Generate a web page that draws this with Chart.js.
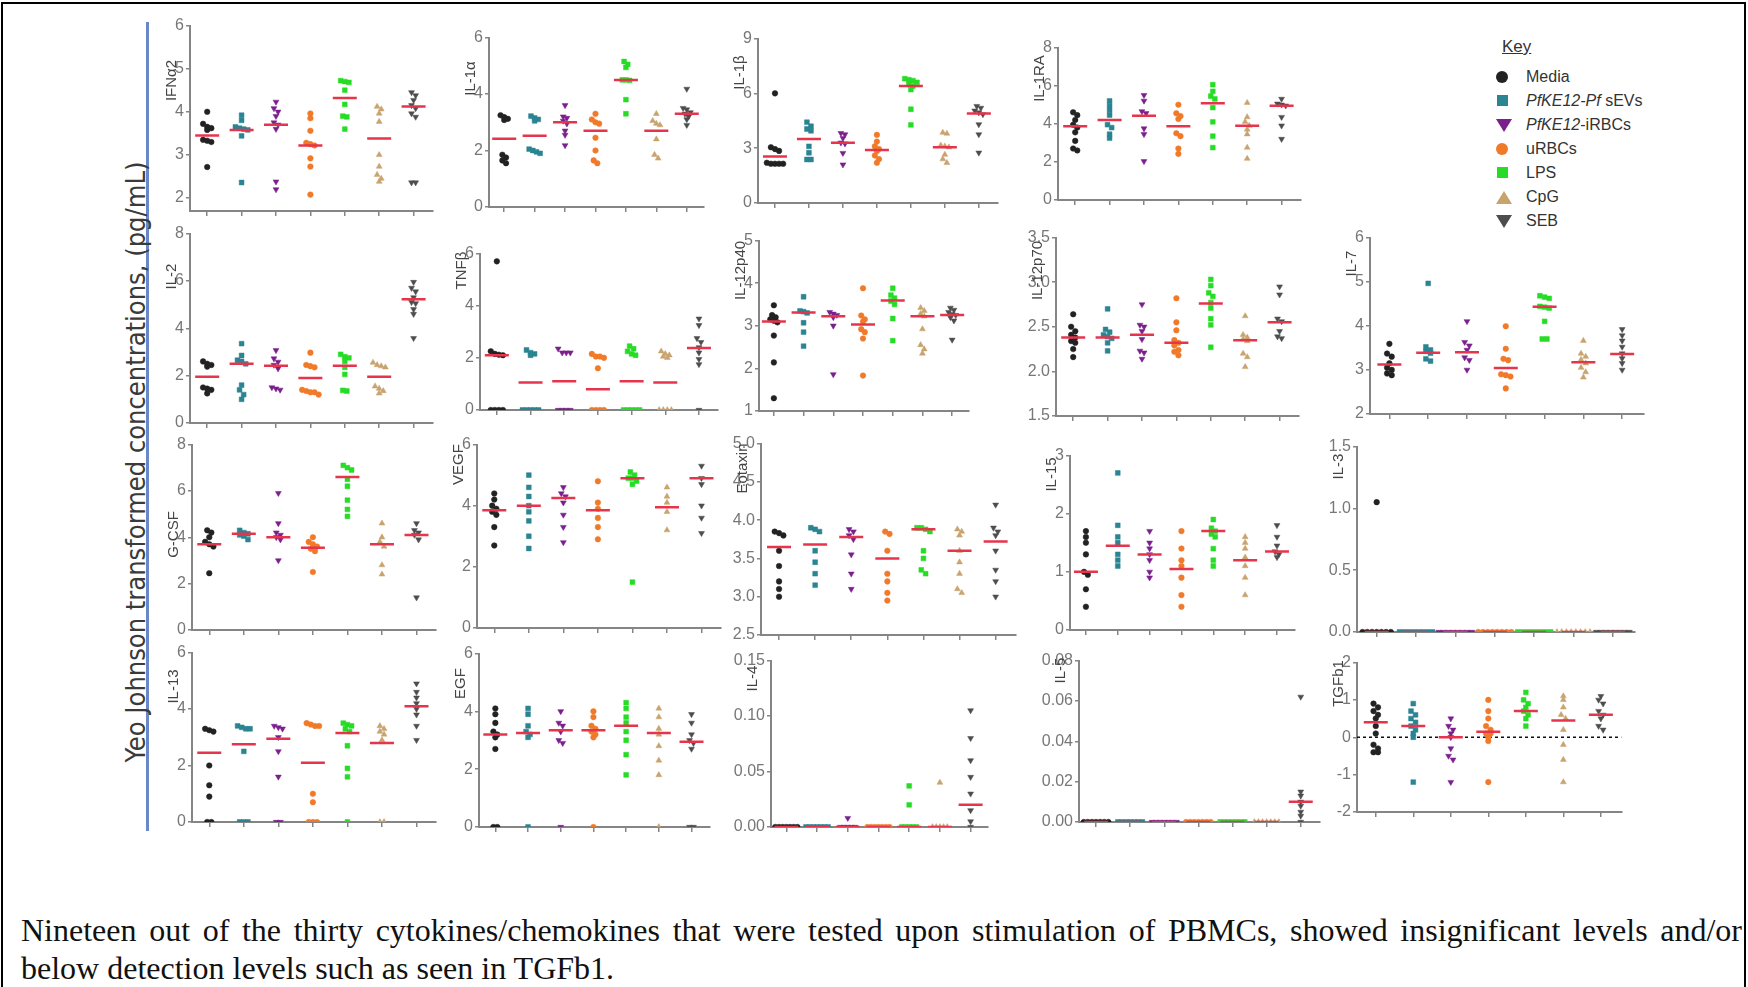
<!DOCTYPE html>
<html>
<head>
<meta charset="utf-8">
<script src="https://cdn.jsdelivr.net/npm/chart.js@4.4.1/dist/chart.umd.min.js"></script>
<style>
  body { margin: 0; width: 1748px; height: 987px; overflow: hidden; position: relative; background: #fff; font-family: Arial, "Liberation Sans", sans-serif; }
  #frame { position: absolute; left: 1px; top: 2px; width: 1745px; height: 1000px; border: 2px solid #000; box-sizing: border-box; }
  #blueLine { position: absolute; left: 146px; top: 22px; width: 3px; height: 809px; background: #6a87c8; }
  #yLabel { position: absolute; left: 135px; top: 462px; transform: translate(-50%, -50%) rotate(-90deg); white-space: nowrap;
    font-family: "Liberation Sans Narrow", "DejaVu Sans Condensed", "Liberation Sans", sans-serif; font-size: 27px; color: #3a3a3a; }
  .panel { position: absolute; }
  #key { position: absolute; left: 1494px; top: 37px; color: #333; font-size: 16px; }
  #key .head { text-decoration: underline; font-size: 17px; margin-left: 8px; margin-bottom: 8px; }
  #key .row { position: relative; height: 24px; line-height: 24px; padding-left: 32px; }
  #key .mk { position: absolute; left: 2px; top: 6px; }
  .caption { position: absolute; left: 21px; width: 1721px; font-family: "Liberation Serif", "Times New Roman", serif; font-size: 32px; line-height: 38px; color: #111; }
  #cap1 { top: 911px; text-align: justify; text-align-last: justify; }
  #cap2 { top: 949px; }
</style>
</head>
<body>
<div id="frame"></div>
<div id="blueLine"></div>
<div id="yLabel">Yeo Johnson transformed concentrations, (pg/mL)</div>
<div id="key"></div>
<div id="cap1" class="caption">Nineteen out of the thirty cytokines/chemokines that were tested upon stimulation of PBMCs, showed insignificant levels and/or</div>
<div id="cap2" class="caption">below detection levels such as seen in TGFb1.</div>
<script>
// treatment groups, in plotting order
const groups = ["Media", "PfKE12-Pf sEVs", "PfKE12-iRBCs", "uRBCs", "LPS", "CpG", "SEB"];
const groupLabels = ["Media", "<i>PfKE12-Pf</i> sEVs", "<i>PfKE12</i>-iRBCs", "uRBCs", "LPS", "CpG", "SEB"];

// values per group (Media, sEVs, iRBCs, uRBCs, LPS, CpG, SEB) and the red bar of each group
const ifna2 = [[4.0, 3.72, 3.65, 3.62, 3.58, 3.35, 3.33, 3.3, 2.72], [3.92, 3.8, 3.65, 3.62, 3.6, 3.58, 3.44, 2.36], [4.23, 4.08, 4.0, 3.9, 3.75, 3.7, 3.6, 2.38, 2.2], [3.96, 3.85, 3.56, 3.28, 3.25, 3.22, 2.92, 2.73, 2.08], [4.72, 4.7, 4.68, 4.5, 4.17, 3.9, 3.88, 3.6], [4.12, 4.06, 3.96, 3.77, 3.0, 2.73, 2.54, 2.45, 2.38], [4.45, 4.38, 4.27, 4.15, 4.08, 3.96, 3.88, 2.36, 2.36]];
const ifna2Mid = [3.45, 3.58, 3.7, 3.22, 4.32, 3.38, 4.12];
const il1a = [[3.25, 3.18, 3.12, 3.08, 1.85, 1.75, 1.65, 1.55], [3.22, 3.15, 3.1, 3.05, 2.05, 2.0, 1.95, 1.9], [3.6, 3.2, 3.15, 3.05, 2.95, 2.7, 2.55, 2.18], [3.3, 3.1, 3.0, 2.95, 2.45, 2.0, 1.65, 1.55], [5.15, 5.05, 4.94, 4.5, 4.5, 4.48, 3.8, 3.3], [3.3, 3.05, 2.95, 2.9, 2.4, 1.85, 1.72], [4.18, 3.5, 3.45, 3.35, 3.3, 3.2, 3.1, 2.9]];
const il1aMid = [2.42, 2.52, 3.0, 2.7, 4.5, 2.7, 3.3];
const il1b = [[6.0, 3.05, 2.95, 2.85, 2.2, 2.15, 2.15, 2.15, 2.15], [4.42, 4.2, 4.05, 3.95, 3.1, 2.75, 2.38, 2.38], [3.82, 3.75, 3.55, 3.3, 3.25, 2.73, 2.1], [3.73, 3.36, 3.1, 2.95, 2.85, 2.6, 2.4, 2.2], [6.8, 6.75, 6.7, 6.6, 6.5, 6.4, 6.2, 5.13, 4.27], [3.85, 3.8, 3.15, 3.1, 3.05, 2.65, 2.4, 2.2], [5.3, 5.2, 5.05, 4.95, 4.85, 4.3, 3.75, 2.75]];
const il1bMid = [2.55, 3.5, 3.3, 2.9, 6.4, 3.05, 4.9];
const il1ra = [[4.6, 4.45, 4.2, 3.95, 3.8, 3.55, 3.1, 2.7, 2.6], [5.2, 4.95, 4.7, 4.45, 3.95, 3.8, 3.45, 3.25], [5.5, 5.2, 4.65, 4.55, 3.75, 3.45, 2.03], [5.0, 4.55, 4.4, 4.25, 3.5, 3.35, 2.7, 2.42], [6.05, 5.7, 5.45, 5.3, 4.85, 4.1, 3.35, 2.75], [5.1, 4.35, 4.1, 3.9, 3.7, 3.45, 2.75, 2.17], [5.3, 5.05, 5.0, 4.95, 4.35, 3.9, 3.2]];
const il1raMid = [3.87, 4.2, 4.42, 3.87, 5.07, 3.9, 4.95];
const il2 = [[2.6, 2.5, 2.45, 2.38, 1.5, 1.45, 1.4, 1.25], [3.35, 2.85, 2.65, 2.6, 2.5, 1.6, 1.4, 1.2, 1.0], [3.07, 2.72, 2.58, 2.45, 2.3, 1.5, 1.4, 1.45], [2.97, 2.45, 2.4, 2.35, 1.4, 1.3, 1.2, 1.3, 1.35], [2.9, 2.8, 2.75, 2.6, 2.35, 2.05, 1.38, 1.35], [2.55, 2.45, 2.4, 2.35, 1.55, 1.45, 1.35, 1.25], [5.95, 5.7, 5.55, 5.3, 5.1, 5.05, 4.8, 4.6, 3.58]];
const il2Mid = [1.95, 2.5, 2.42, 1.9, 2.42, 1.95, 5.22];
const tnfb = [[5.7, 2.25, 2.15, 2.12, 2.1, 0, 0, 0, 0], [2.3, 2.2, 2.15, 2.1, 0, 0, 0, 0, 0], [2.35, 2.2, 2.2, 2.2, 0, 0, 0, 0], [2.15, 2.05, 2.0, 2.05, 1.6, 0, 0, 0, 0], [2.45, 2.35, 2.25, 2.15, 2.1, 0, 0, 0, 0, 0], [2.25, 2.15, 2.1, 2.05, 2.0, 0, 0, 0, 0], [3.5, 3.25, 2.75, 2.6, 2.4, 2.2, 1.95, 1.75, 0]];
const tnfbMid = [2.1, 1.05, 1.1, 0.8, 1.1, 1.05, 2.38];
const il12p40 = [[3.48, 3.25, 3.2, 3.15, 3.12, 3.08, 2.77, 2.14, 1.3], [3.68, 3.35, 3.33, 3.3, 3.07, 2.85, 2.52], [3.32, 3.28, 3.25, 3.2, 3.0, 1.86], [3.88, 3.24, 3.15, 3.1, 2.92, 2.85, 2.7, 1.83], [3.88, 3.72, 3.65, 3.58, 3.5, 3.17, 2.65], [3.42, 3.35, 3.28, 3.22, 2.92, 2.55, 2.45, 2.35], [3.42, 3.37, 3.32, 3.27, 3.25, 3.2, 3.12, 2.67]];
const il12p40Mid = [3.1, 3.31, 3.22, 3.03, 3.59, 3.22, 3.25];
const il12p70 = [[2.64, 2.5, 2.45, 2.41, 2.38, 2.34, 2.32, 2.25, 2.16], [2.7, 2.47, 2.44, 2.41, 2.39, 2.37, 2.32, 2.23], [2.75, 2.52, 2.5, 2.45, 2.36, 2.23, 2.21, 2.14], [2.82, 2.55, 2.46, 2.35, 2.32, 2.29, 2.24, 2.22, 2.18], [3.03, 2.96, 2.88, 2.84, 2.77, 2.71, 2.59, 2.52, 2.27], [2.62, 2.41, 2.38, 2.36, 2.34, 2.2, 2.16, 2.05], [2.95, 2.86, 2.59, 2.56, 2.45, 2.39, 2.37]];
const il12p70Mid = [2.38, 2.38, 2.41, 2.32, 2.76, 2.35, 2.55];
const il7 = [[3.59, 3.37, 3.3, 3.15, 3.05, 3.0, 2.92, 2.88], [4.96, 3.52, 3.45, 3.42, 3.38, 3.25, 3.2], [4.1, 3.63, 3.55, 3.45, 3.28, 3.22, 3.0], [3.99, 3.48, 3.25, 3.22, 2.9, 2.88, 2.85, 2.58], [4.68, 4.65, 4.62, 4.44, 4.42, 4.4, 4.1, 3.7, 3.7], [3.66, 3.37, 3.3, 3.23, 3.15, 3.05, 2.95, 2.83], [3.92, 3.78, 3.66, 3.52, 3.37, 3.26, 3.15, 3.0]];
const il7Mid = [3.12, 3.39, 3.4, 3.04, 4.43, 3.17, 3.36];
const gcsf = [[4.3, 4.2, 4.0, 3.8, 3.7, 3.6, 2.45], [4.3, 4.2, 4.15, 4.1, 4.05, 3.9], [5.9, 4.6, 4.2, 4.1, 4.0, 3.9, 3.0], [4.0, 3.8, 3.7, 3.6, 3.5, 3.4, 2.5], [7.1, 7.0, 6.9, 6.5, 6.2, 5.6, 5.2, 4.9], [4.6, 4.0, 3.8, 3.6, 2.8, 2.4], [4.6, 4.3, 4.2, 4.1, 3.9, 1.4]];
const gcsfMid = [3.7, 4.15, 4.0, 3.55, 6.6, 3.7, 4.1];
const vegf = [[4.4, 4.2, 4.0, 3.9, 3.8, 3.7, 3.3, 2.7], [5.0, 4.6, 4.3, 4.0, 3.8, 3.5, 3.0, 2.6], [4.6, 4.4, 4.3, 4.1, 3.7, 3.3, 2.8], [4.8, 4.1, 3.9, 3.6, 3.3, 2.9], [5.1, 5.0, 4.9, 4.9, 4.8, 4.7, 1.5], [4.6, 4.3, 4.1, 3.8, 3.2], [5.3, 4.9, 4.7, 4.0, 3.6, 3.1]];
const vegfMid = [3.85, 4.0, 4.25, 3.85, 4.9, 3.95, 4.9];
const eotaxin = [[3.85, 3.83, 3.8, 3.6, 3.4, 3.2, 3.1, 3.0], [3.9, 3.88, 3.85, 3.6, 3.45, 3.3, 3.15], [3.88, 3.85, 3.8, 3.75, 3.55, 3.3, 3.1], [3.85, 3.82, 3.6, 3.3, 3.2, 3.05, 2.95], [3.9, 3.9, 3.88, 3.85, 3.6, 3.5, 3.35, 3.3], [3.88, 3.85, 3.8, 3.6, 3.45, 3.3, 3.1, 3.05], [4.2, 3.9, 3.85, 3.8, 3.6, 3.35, 3.2, 3.0]];
const eotaxinMid = [3.65, 3.68, 3.78, 3.5, 3.88, 3.6, 3.72];
const il15 = [[1.7, 1.6, 1.5, 1.3, 1.0, 0.95, 0.7, 0.4], [2.7, 1.8, 1.6, 1.5, 1.3, 1.2, 1.1], [1.7, 1.5, 1.4, 1.3, 1.2, 1.0, 0.9], [1.7, 1.4, 1.2, 1.1, 0.9, 0.6, 0.4], [1.9, 1.75, 1.7, 1.65, 1.6, 1.4, 1.2, 1.1], [1.6, 1.5, 1.4, 1.25, 1.1, 0.9, 0.6], [1.8, 1.6, 1.45, 1.35, 1.3, 1.25]];
const il15Mid = [1.0, 1.45, 1.3, 1.05, 1.7, 1.2, 1.35];
const il3 = [[1.05, 0, 0, 0, 0, 0, 0, 0], [0, 0, 0, 0, 0, 0, 0, 0], [0, 0, 0, 0, 0, 0, 0, 0], [0, 0, 0, 0, 0, 0, 0, 0], [0, 0, 0, 0, 0, 0, 0, 0], [0, 0, 0, 0, 0, 0, 0, 0], [0, 0, 0, 0, 0, 0, 0, 0]];
const il3Mid = [0, 0, 0, 0, 0, 0, 0];
const il13 = [[3.3, 3.25, 3.2, 2.0, 1.3, 0.9, 0, 0], [3.4, 3.35, 3.3, 3.3, 2.5, 0, 0, 0], [3.4, 3.35, 3.3, 3.0, 2.5, 1.6, 0, 0], [3.5, 3.45, 3.4, 3.4, 1.0, 0.7, 0, 0, 0], [3.5, 3.45, 3.4, 3.3, 3.2, 2.7, 1.9, 1.6, 0], [3.4, 3.3, 3.2, 3.1, 2.9, 0, 0], [4.9, 4.6, 4.4, 4.2, 4.0, 3.8, 3.4, 2.9]];
const il13Mid = [2.45, 2.75, 2.95, 2.1, 3.15, 2.8, 4.1];
const egf = [[4.1, 3.9, 3.6, 3.3, 3.2, 3.1, 2.7, 0, 0], [4.1, 3.9, 3.5, 3.3, 3.2, 3.1, 0], [4.0, 3.6, 3.5, 3.3, 3.0, 2.9, 0], [4.0, 3.8, 3.5, 3.4, 3.3, 3.2, 3.1, 0], [4.3, 4.1, 3.8, 3.6, 3.3, 3.0, 2.5, 1.8], [4.1, 3.8, 3.4, 3.2, 2.8, 2.3, 1.8, 0], [3.9, 3.6, 3.2, 3.0, 2.9, 2.7, 0, 0]];
const egfMid = [3.2, 3.25, 3.35, 3.35, 3.5, 3.25, 2.95];
const il4 = [[0, 0, 0, 0, 0, 0, 0], [0, 0, 0, 0, 0, 0, 0], [0.008, 0, 0, 0, 0, 0], [0, 0, 0, 0, 0, 0, 0], [0.037, 0.02, 0, 0, 0, 0, 0], [0.04, 0, 0, 0, 0, 0], [0.105, 0.08, 0.06, 0.045, 0.03, 0.015, 0.005, 0]];
const il4Mid = [0, 0, 0, 0, 0, 0, 0.02];
const il5 = [[0, 0, 0, 0, 0, 0, 0], [0, 0, 0, 0, 0, 0, 0], [0, 0, 0, 0, 0, 0, 0], [0, 0, 0, 0, 0, 0, 0], [0, 0, 0, 0, 0, 0, 0], [0, 0, 0, 0, 0, 0, 0], [0.062, 0.015, 0.013, 0.01, 0.008, 0.005, 0.003, 0]];
const il5Mid = [0, 0, 0, 0, 0, 0, 0.01];
const tgfb1 = [[0.9, 0.8, 0.7, 0.6, 0.5, 0.3, 0.1, -0.2, -0.3, -0.4, -0.4], [0.9, 0.7, 0.6, 0.5, 0.4, 0.3, 0.2, 0.1, 0, -1.2], [0.5, 0.3, 0.2, 0.1, 0, -0.3, -0.5, -0.6, -1.2], [1.0, 0.7, 0.5, 0.3, 0.2, 0.1, 0.1, 0, -0.1, -1.2], [1.2, 1.0, 0.9, 0.8, 0.7, 0.6, 0.5, 0.3], [1.1, 1.0, 0.8, 0.6, 0.5, 0.2, -0.2, -0.6, -1.2], [1.1, 1.0, 0.9, 0.7, 0.6, 0.5, 0.3, 0.2]];
const tgfb1Mid = [0.4, 0.3, 0.0, 0.15, 0.7, 0.45, 0.6];

// look
const groupColors = ["#222222", "#2a8492", "#7a1f8c", "#f07a2a", "#26dc26", "#c9a36e", "#4d4d4d"];
const groupShapes = ["circle", "rect", "triangle", "circle", "rect", "triangle", "triangle"];
const groupTurn = [0, 0, 180, 0, 0, 0, 180];
const midColor = "#e5344c";
const axisColor = "#858585";

// where each panel sits: axis left/right x, axis top/bottom y, value range
const panels = [
  { title: "IFNα2", values: ifna2, mids: ifna2Mid, ax: 190, ar: 437, yt: 25, yb: 211, min: 1.7, max: 6, step: 1, dec: 0, tOff: 55 },
  { title: "IL-1α", values: il1a, mids: il1aMid, ax: 489, ar: 708, yt: 37, yb: 207, min: 0, max: 6, step: 2, dec: 0, tOff: 41 },
  { title: "IL-1β", values: il1b, mids: il1bMid, ax: 758, ar: 1002, yt: 38, yb: 203, min: 0, max: 9, step: 3, dec: 0, tOff: 34 },
  { title: "IL-1RA", values: il1ra, mids: il1raMid, ax: 1058, ar: 1305, yt: 47, yb: 200, min: 0, max: 8, step: 2, dec: 0, tOff: 31 },
  { title: "IL-2", values: il2, mids: il2Mid, ax: 190, ar: 437, yt: 233, yb: 423, min: 0, max: 8, step: 2, dec: 0, tOff: 43 },
  { title: "TNFβ", values: tnfb, mids: tnfbMid, ax: 480, ar: 722, yt: 253, yb: 410, min: 0, max: 6, step: 2, dec: 0, tOff: 17 },
  { title: "IL-12p40", values: il12p40, mids: il12p40Mid, ax: 759, ar: 973, yt: 240, yb: 411, min: 1, max: 5, step: 1, dec: 0, tOff: 30 },
  { title: "IL-12p70", values: il12p70, mids: il12p70Mid, ax: 1056, ar: 1303, yt: 237, yb: 416, min: 1.5, max: 3.5, step: 0.5, dec: 1, tOff: 33 },
  { title: "IL-7", values: il7, mids: il7Mid, ax: 1370, ar: 1648, yt: 237, yb: 414, min: 2, max: 6, step: 1, dec: 0, tOff: 26 },
  { title: "G-CSF", values: gcsf, mids: gcsfMid, ax: 192, ar: 440, yt: 444, yb: 630, min: 0, max: 8, step: 2, dec: 0, tOff: 90 },
  { title: "VEGF", values: vegf, mids: vegfMid, ax: 477, ar: 725, yt: 444, yb: 628, min: 0, max: 6, step: 2, dec: 0, tOff: 20 },
  { title: "Eotaxin", values: eotaxin, mids: eotaxinMid, ax: 761, ar: 1020, yt: 443, yb: 635, min: 2.5, max: 5, step: 0.5, dec: 1, tOff: 25 },
  { title: "IL-15", values: il15, mids: il15Mid, ax: 1070, ar: 1299, yt: 455, yb: 630, min: 0, max: 3, step: 1, dec: 0, tOff: 19 },
  { title: "IL-3", values: il3, mids: il3Mid, ax: 1357, ar: 1639, yt: 446, yb: 632, min: 0, max: 1.5, step: 0.5, dec: 1, tOff: 20 },
  { title: "IL-13", values: il13, mids: il13Mid, ax: 192, ar: 440, yt: 652, yb: 822, min: 0, max: 6, step: 2, dec: 0, tOff: 34 },
  { title: "EGF", values: egf, mids: egfMid, ax: 479, ar: 714, yt: 653, yb: 827, min: 0, max: 6, step: 2, dec: 0, tOff: 30 },
  { title: "IL-4", values: il4, mids: il4Mid, ax: 771, ar: 992, yt: 660, yb: 827, min: 0, max: 0.15, step: 0.05, dec: 2, tOff: 18 },
  { title: "IL-5", values: il5, mids: il5Mid, ax: 1079, ar: 1324, yt: 660, yb: 822, min: 0, max: 0.08, step: 0.02, dec: 2, tOff: 10 },
  { title: "TGFb1", values: tgfb1, mids: tgfb1Mid, ax: 1357, ar: 1626, yt: 662, yb: 812, min: -2, max: 2, step: 1, dec: 0, tOff: 21, zeroLine: true }
];

// y scale box is wide enough for "0.15"-style labels; titles are drawn by the plugin
const PAD_L = 8, Y_W = 58, PAD_R = 10, PAD_T = 14, TICK = 5, PAD_B = 12;

// side-by-side placement of near-equal values inside a group
function spread(vals, p) {
  const tol = (p.max - p.min) / 40;
  const sorted = vals.slice().sort((a, b) => b - a);
  const out = [];
  let i = 0;
  while (i < sorted.length) {
    let j = i;
    while (j + 1 < sorted.length && sorted[i] - sorted[j + 1] < tol) j++;
    const n = j - i + 1;
    for (let k = 0; k < n; k++) out.push({ dx: (k - (n - 1) / 2) * 0.12, y: sorted[i + k] });
    i = j + 1;
  }
  return out;
}

const sideTitle = {
  id: "sideTitle",
  afterDraw(chart, args, opts) {
    const { ctx, chartArea } = chart;
    ctx.save();
    ctx.translate(chartArea.left - 18, chartArea.top + opts.offset);
    ctx.rotate(-Math.PI / 2);
    ctx.font = "15px Arial, 'Liberation Sans', sans-serif";
    ctx.fillStyle = "#444";
    ctx.textAlign = "center";
    ctx.textBaseline = "middle";
    ctx.fillText(opts.text, 0, 0);
    ctx.restore();
  }
};

function drawPanel(p) {
  const w = p.ar - p.ax + PAD_L + Y_W + PAD_R;
  const h = p.yb - p.yt + PAD_T + TICK + PAD_B;
  const box = document.createElement("div");
  box.className = "panel";
  box.style.cssText = `left:${p.ax - PAD_L - Y_W}px;top:${p.yt - PAD_T}px;width:${w}px;height:${h}px`;
  const cv = document.createElement("canvas");
  cv.width = w; cv.height = h;
  box.appendChild(cv);
  document.body.appendChild(box);

  const datasets = p.values.map((vals, g) => ({
    label: groups[g],
    data: spread(vals, p).map((d) => ({ x: g + 1 + d.dx, y: d.y })),
    pointStyle: groupShapes[g],
    rotation: groupTurn[g],
    backgroundColor: groupColors[g],
    borderColor: groupColors[g],
    pointRadius: groupShapes[g] === "circle" ? 2.8 : 3.4,
    borderWidth: 0.5,
    order: 1
  }));
  datasets.push({
    label: "median",
    data: p.mids.map((m, i) => ({ x: i + 1, y: m })),
    pointStyle: "line",
    pointRadius: 12,
    borderColor: midColor,
    borderWidth: 2.5,
    order: 0
  });
  if (p.zeroLine) {
    datasets.push({
      label: "zero",
      data: [{ x: 0.5, y: 0 }, { x: 7.55, y: 0 }],
      showLine: true,
      pointRadius: 0,
      borderColor: "#111",
      borderWidth: 1.5,
      borderDash: [3, 3],
      order: 2
    });
  }

  const yTicks = [];
  for (let v = Math.ceil(p.min / p.step - 1e-6) * p.step; v <= p.max + 1e-9; v += p.step) yTicks.push({ value: +v.toFixed(4) });

  new Chart(cv, {
    type: "scatter",
    data: { datasets },
    options: {
      responsive: false,
      animation: false,
      devicePixelRatio: 1,
      layout: { padding: { left: PAD_L, right: PAD_R, top: PAD_T, bottom: PAD_B } },
      plugins: { legend: { display: false }, tooltip: { enabled: false }, sideTitle: { text: p.title, offset: p.tOff } },
      scales: {
        x: {
          type: "linear", min: 0.5, max: 7.55,
          afterBuildTicks: (axis) => { axis.ticks = groups.map((g, i) => ({ value: i + 1 })); },
          ticks: { display: false },
          grid: { drawOnChartArea: false, tickLength: TICK, color: axisColor, lineWidth: 1.5 },
          border: { color: axisColor, width: 2 }
        },
        y: {
          min: p.min, max: p.max,
          afterBuildTicks: (axis) => { axis.ticks = yTicks; },
          afterFit: (axis) => { axis.width = Y_W; },
          ticks: { font: { size: 16 }, color: "#777", padding: 2, callback: (v) => Number(v).toFixed(p.dec) },
          grid: { drawOnChartArea: false, tickLength: 4, color: axisColor, lineWidth: 1.5 },
          border: { color: axisColor, width: 2 }
        }
      }
    },
    plugins: [sideTitle]
  });
}

function drawKey() {
  const key = document.getElementById("key");
  const shape = (g) => {
    const c = groupColors[g];
    if (groupShapes[g] === "circle") return `<span class="mk" style="width:12px;height:12px;border-radius:50%;background:${c}"></span>`;
    if (groupShapes[g] === "rect") return `<span class="mk" style="left:3px;width:11px;height:11px;background:${c}"></span>`;
    if (groupTurn[g] === 180) return `<span class="mk" style="width:0;height:0;border-left:8px solid transparent;border-right:8px solid transparent;border-top:13px solid ${c}"></span>`;
    return `<span class="mk" style="width:0;height:0;border-left:8px solid transparent;border-right:8px solid transparent;border-bottom:13px solid ${c}"></span>`;
  };
  key.innerHTML = `<div class="head">Key</div>` + groupLabels.map((lab, g) => `<div class="row">${shape(g)}${lab}</div>`).join("");
}

panels.forEach(drawPanel);
drawKey();
</script>
</body>
</html>
